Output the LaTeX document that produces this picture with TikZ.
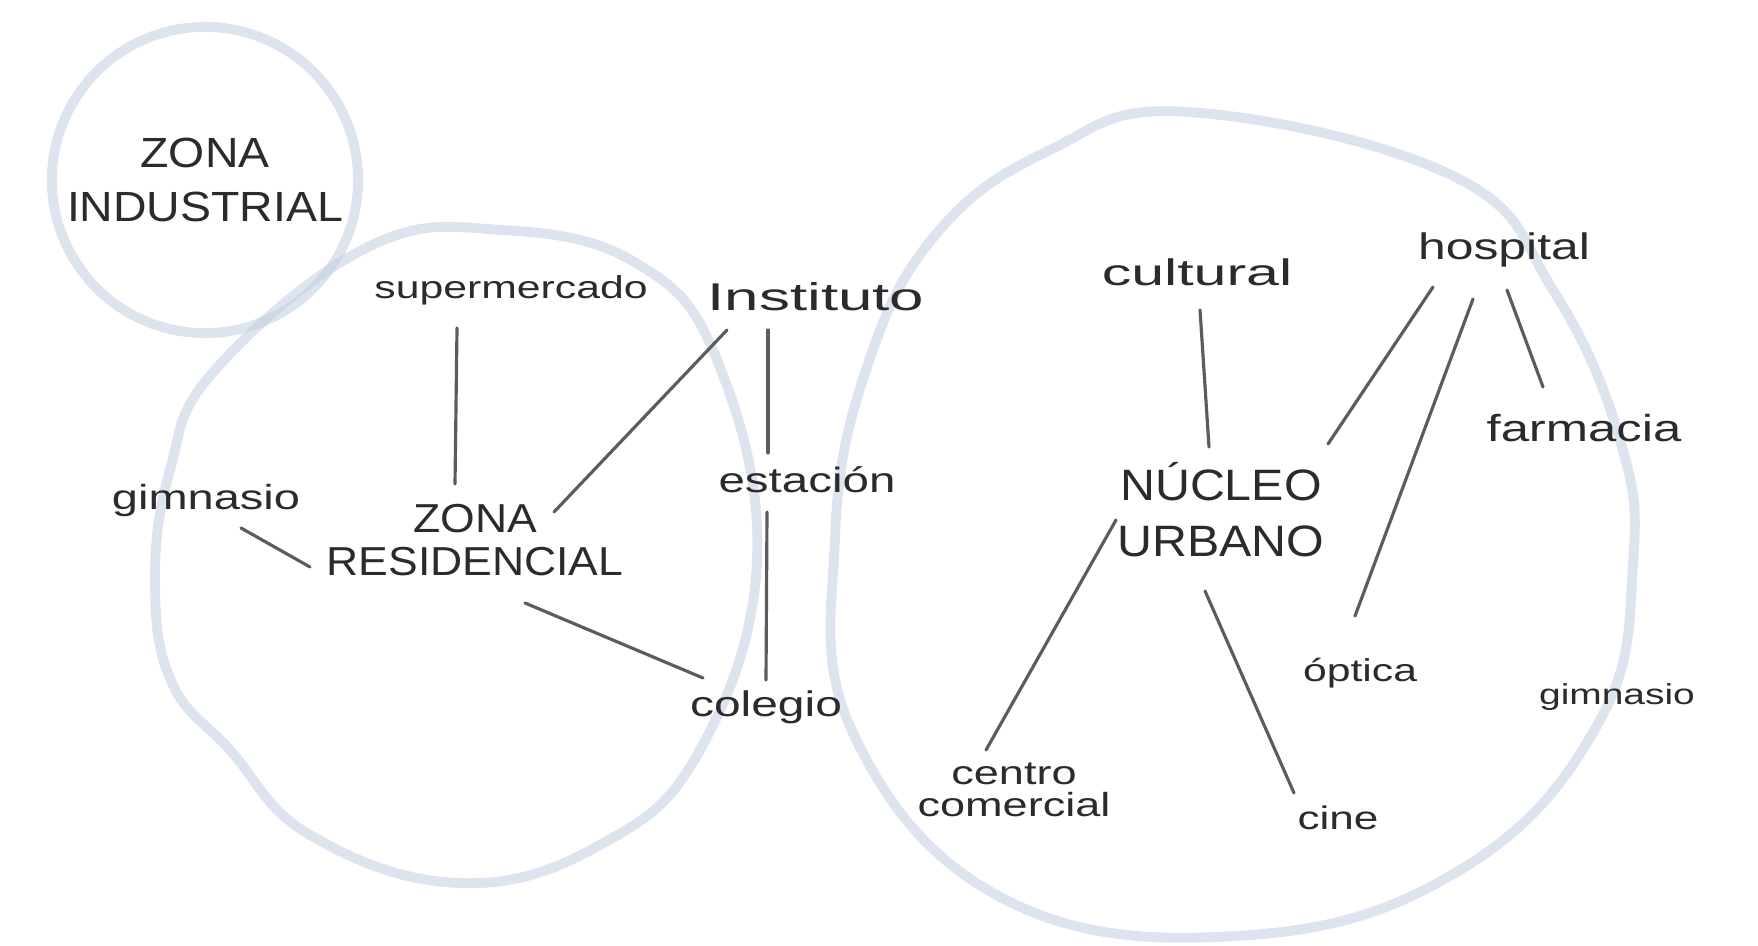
\documentclass[tikz,border=0pt]{standalone}
\usepackage{fontspec}
\newfontfamily\hand[FakeStretch=1.35]{Liberation Sans}
\newfontfamily\handwide[FakeStretch=1.6]{Liberation Sans}
\newfontfamily\handcaps[FakeStretch=1.1]{Liberation Sans}
\usetikzlibrary{calc}
\definecolor{ink}{HTML}{2B2B2E}
\definecolor{pencil}{HTML}{5C5C60}
\definecolor{circ}{HTML}{C2CFDF}
\begin{document}
\begin{tikzpicture}[x=0.01cm,y=-0.01cm,
  lab/.style={inner sep=0pt, text=ink},
  conn/.style={draw=pencil, line width=0.9pt, line cap=round},
  zone/.style={draw=circ, line width=2.8pt, opacity=0.55, line cap=round, line join=round}]
\fill[white] (0,0) rectangle (1758,946);
\useasboundingbox (0,0) rectangle (1758,946);

% zone outlines (hand-drawn circles)
\draw[zone] (205,180) circle[x radius=1.53cm, y radius=1.53cm];
\draw[zone] plot[smooth cycle, tension=0.7] coordinates {
  (502,230) (636,263) (717,360) (757,560) (700,750) (600,845)
  (459,883) (310,835) (230,750) (172,683) (155,583) (170,470) (215,370) (368,247)};
\draw[zone] plot[smooth cycle, tension=0.7] coordinates {
  (1188,112) (1453,176) (1553,290) (1620,440) (1633,564) (1600,720)
  (1465,867) (1250,935) (1006,900) (853,733) (835,538) (867,367) (937,233) (1050,150)};

% labels
\node[lab, font=\handcaps\fontsize{12}{15.3}\selectfont, align=center] (zi) at (205,180) {ZONA\\INDUSTRIAL};
\node[lab, font=\hand\fontsize{9}{11}\selectfont] (sup) at (511,290) {supermercado};
\node[lab, font=\handwide\fontsize{11}{13}\selectfont] (inst) at (816,297) {Instituto};
\node[lab, font=\hand\fontsize{9.9}{12}\selectfont] (gim) at (206,500) {gimnasio};
\node[lab, font=\handcaps\fontsize{11.5}{12.2}\selectfont, align=center] (zr) at (475,540) {ZONA\\RESIDENCIAL};
\node[lab, font=\hand\fontsize{10}{12}\selectfont] (est) at (807,480) {estación};
\node[lab, font=\hand\fontsize{10.1}{12}\selectfont] (col) at (766,707) {colegio};
\node[lab, font=\handwide\fontsize{10.5}{12}\selectfont] (cul) at (1197,272) {cultural};
\node[lab, font=\hand\fontsize{10.5}{12}\selectfont] (hos) at (1504,250) {hospital};
\node[lab, font=\hand\fontsize{10.7}{12}\selectfont] (far) at (1584,428) {farmacia};
\node[lab, font=\handcaps\fontsize{12.5}{15.9}\selectfont, align=center] (nu) at (1221,510) {NÚCLEO\\URBANO};
\node[lab, font=\hand\fontsize{9}{11}\selectfont] (opt) at (1360,673) {óptica};
\node[lab, font=\hand\fontsize{8.2}{10}\selectfont] (gim2) at (1617,697) {gimnasio};
\node[lab, font=\hand\fontsize{9.5}{9}\selectfont, align=center] (cc) at (1014,790) {centro\\comercial};
\node[lab, font=\hand\fontsize{9.3}{11}\selectfont] (cine) at (1338,818) {cine};

% connectors
\draw[conn] ($(sup.center)+(-54,38)$) -- ($(zr.center)+(-20,-56)$);
\draw[conn] ($(inst.center)+(-89,33)$) -- ($(zr.center)+(79,-28)$);
\draw[conn] ($(inst.center)+(-48,33)$) -- ($(est.center)+(-39,-27)$);
\draw[conn] ($(est.center)+(-40,32)$) -- ($(col.center)+(0,-27)$);
\draw[conn] ($(gim.center)+(35,28)$) -- ($(zr.center)+(-165,27)$);
\draw[conn] ($(zr.center)+(50,63)$) -- ($(col.center)+(-63,-29)$);
\draw[conn] ($(cul.center)+(3,38)$) -- ($(nu.center)+(-12,-63)$);
\draw[conn] ($(hos.center)+(-71,37)$) -- ($(nu.center)+(107,-66)$);
\draw[conn] ($(hos.center)+(-31,49)$) -- ($(opt.center)+(-5,-57)$);
\draw[conn] ($(hos.center)+(3,40)$) -- ($(far.center)+(-41,-41)$);
\draw[conn] ($(nu.center)+(-105,10)$) -- ($(cc.center)+(-28,-40)$);
\draw[conn] ($(nu.center)+(-16,81)$) -- ($(cine.center)+(-44,-25)$);
\end{tikzpicture}
\end{document}
